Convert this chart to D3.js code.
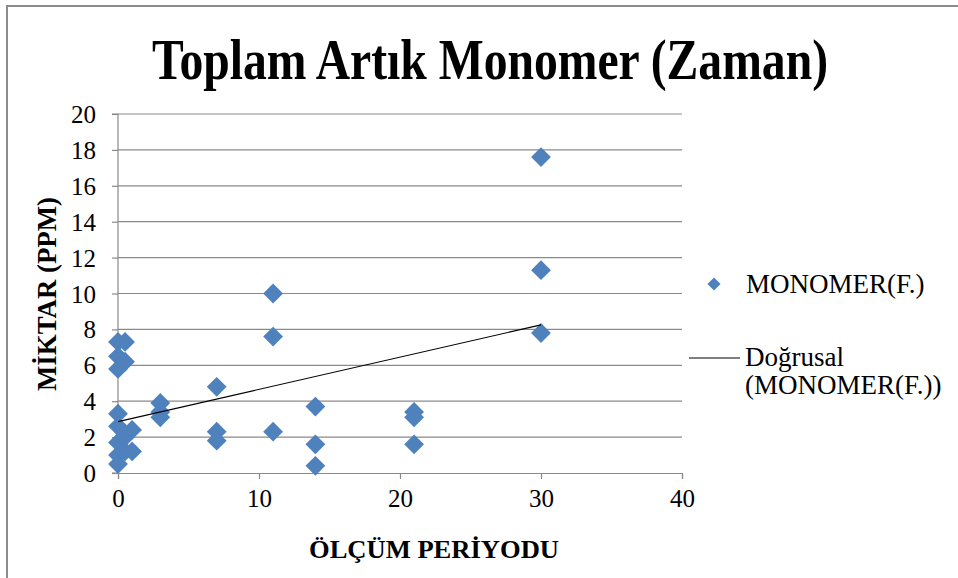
<!DOCTYPE html>
<html>
<head>
<meta charset="utf-8">
<script src="https://cdn.jsdelivr.net/npm/d3@7"></script>
<style>
  body { margin: 0; background: #fff; }
</style>
</head>
<body>
<svg id="chart"></svg>
<script>
var w = 958;
var h = 578;
var serif = '"Liberation Serif", "Times New Roman", serif';

// ölçüm periyodu / miktar (ppm)
var periyot = [0, 0, 0, 0, 0, 0, 0, 0,
               0.5, 0.5, 0.5, 0.5,
               1, 1,
               3, 3, 3,
               7, 7, 7,
               11, 11, 11,
               14, 14, 14,
               21, 21, 21,
               30, 30, 30];
var miktar = [7.3, 6.5, 5.8, 3.3, 2.6, 1.7, 1.0, 0.5,
              7.3, 6.2, 2.0, 1.2,
              2.4, 1.2,
              3.9, 3.4, 3.1,
              4.8, 2.3, 1.8,
              10.0, 7.6, 2.3,
              3.7, 1.6, 0.4,
              3.4, 3.1, 1.6,
              17.6, 11.3, 7.8];
var xTicks = [0, 10, 20, 30, 40];
var yTicks = [0, 2, 4, 6, 8, 10, 12, 14, 16, 18, 20];

var svg = d3.select('#chart').attr('width', w).attr('height', h);

// chart frame
svg.append('rect')
  .attr('x', 7).attr('y', 6)
  .attr('width', 980).attr('height', 600)
  .attr('fill', 'none')
  .attr('stroke', '#8c8c8c')
  .attr('stroke-width', 2);

var x = d3.scaleLinear().domain([0, 40]).range([118, 682]);
var y = d3.scaleLinear().domain([0, 20]).range([473, 114]);

// gridlines
svg.append('g').selectAll('line')
  .data(yTicks.filter(function (d) { return d > 0; }))
  .enter().append('line')
  .attr('x1', x(0)).attr('x2', x(40))
  .attr('y1', function (d) { return y(d); })
  .attr('y2', function (d) { return y(d); })
  .attr('stroke', '#8a8a8a')
  .attr('stroke-width', 1.2);

var xAxis = svg.append('g')
  .attr('transform', 'translate(0,' + y(0) + ')')
  .call(d3.axisBottom(x).tickValues(xTicks).tickSize(6).tickPadding(10));

var yAxis = svg.append('g')
  .attr('transform', 'translate(' + x(0) + ',0)')
  .call(d3.axisLeft(y).tickValues(yTicks).tickSize(6).tickPadding(16));

[xAxis, yAxis].forEach(function (a) {
  a.attr('font-family', null).attr('font-size', null);
  a.selectAll('path, line').attr('stroke', '#8a8a8a').attr('stroke-width', 1.2);
  a.selectAll('text')
    .attr('fill', '#000')
    .style('font-family', serif)
    .style('font-size', '25px');
});
yAxis.select('.domain').attr('d', 'M-6,' + y(20) + 'H0V' + y(0) + 'H-6');
yAxis.selectAll('text').attr('dy', '0.34em');

// trend line (least squares)
var n = periyot.length;
var mx = d3.mean(periyot), my = d3.mean(miktar);
var sxy = 0, sxx = 0;
for (var i = 0; i < n; i++) {
  sxy += (periyot[i] - mx) * (miktar[i] - my);
  sxx += (periyot[i] - mx) * (periyot[i] - mx);
}
var b = sxy / sxx;
var a = my - b * mx;
var xr = d3.extent(periyot);

// points
var diamond = d3.symbol().type(d3.symbolDiamond2).size(250);
svg.append('g').selectAll('path')
  .data(d3.range(n))
  .enter().append('path')
  .attr('d', diamond)
  .attr('transform', function (i) { return 'translate(' + x(periyot[i]) + ',' + y(miktar[i]) + ')'; })
  .attr('fill', '#4f81bd');

svg.append('line')
  .attr('x1', x(xr[0])).attr('y1', y(a + b * xr[0]))
  .attr('x2', x(xr[1])).attr('y2', y(a + b * xr[1]))
  .attr('stroke', '#000')
  .attr('stroke-width', 1.2);

// titles
svg.append('text')
  .attr('x', 490).attr('y', 79)
  .attr('text-anchor', 'middle')
  .attr('textLength', 676)
  .attr('lengthAdjust', 'spacingAndGlyphs')
  .style('font-family', serif)
  .style('font-size', '56px')
  .style('font-weight', 'bold')
  .text('Toplam Artık Monomer (Zaman)');

svg.append('text')
  .attr('x', 434).attr('y', 558)
  .attr('text-anchor', 'middle')
  .attr('textLength', 250)
  .attr('lengthAdjust', 'spacingAndGlyphs')
  .style('font-family', serif)
  .style('font-size', '26px')
  .style('font-weight', 'bold')
  .text('ÖLÇÜM PERİYODU');

svg.append('text')
  .attr('transform', 'translate(56,294) rotate(-90)')
  .attr('text-anchor', 'middle')
  .attr('textLength', 194)
  .attr('lengthAdjust', 'spacingAndGlyphs')
  .style('font-family', serif)
  .style('font-size', '27px')
  .style('font-weight', 'bold')
  .text('MİKTAR (PPM)');

// legend
var leg = svg.append('g');
leg.append('path')
  .attr('d', d3.symbol().type(d3.symbolDiamond2).size(110))
  .attr('transform', 'translate(714,284)')
  .attr('fill', '#4f81bd');
leg.append('line')
  .attr('x1', 689).attr('x2', 740)
  .attr('y1', 358).attr('y2', 358)
  .attr('stroke', '#000').attr('stroke-width', 1.2);
var legText = [['MONOMER(F.)', 746, 293], ['Doğrusal', 745, 366], ['(MONOMER(F.))', 745, 394]];
leg.selectAll('text')
  .data(legText)
  .enter().append('text')
  .attr('x', function (d) { return d[1]; })
  .attr('y', function (d) { return d[2]; })
  .style('font-family', serif)
  .style('font-size', '27px')
  .text(function (d) { return d[0]; });
</script>
</body>
</html>
